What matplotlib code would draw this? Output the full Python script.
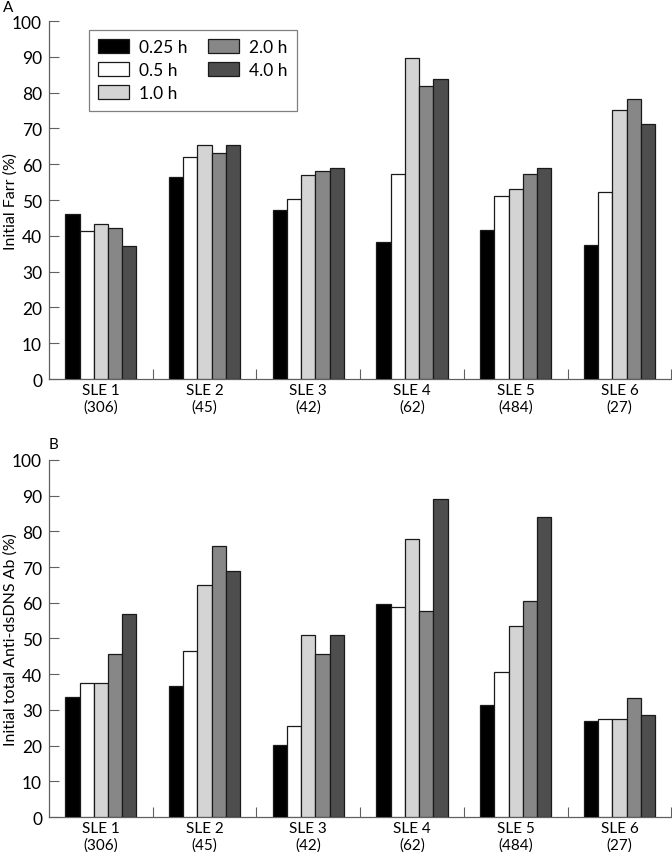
import numpy as np
import matplotlib
matplotlib.use('Agg')
import matplotlib.pyplot as plt
from matplotlib.patches import Patch

plt.rcParams['font.family'] = ['Lato', 'DejaVu Sans']

patients = ['SLE 1', 'SLE 2', 'SLE 3', 'SLE 4', 'SLE 5', 'SLE 6']
counts = ['(306)', '(45)', '(42)', '(62)', '(484)', '(27)']
times = ['0.25 h', '0.5 h', '1.0 h', '2.0 h', '4.0 h']

# Panel A: initial Farr (%) per time point
farr_025 = [46.1, 56.4, 47.1, 38.3, 41.7, 37.3]
farr_05 = [41.3, 62.0, 50.4, 57.3, 51.1, 52.2]
farr_10 = [43.4, 65.4, 57.1, 89.7, 53.2, 75.1]
farr_20 = [42.1, 63.2, 58.2, 81.9, 57.3, 78.3]
farr_40 = [37.1, 65.4, 59.0, 83.9, 58.9, 71.1]

# Panel B: initial total anti-dsDNA Ab (%) per time point
ab_025 = [33.5, 36.7, 20.3, 59.6, 31.4, 26.9]
ab_05 = [37.6, 46.5, 25.5, 58.7, 40.5, 27.5]
ab_10 = [37.6, 65.0, 51.0, 77.8, 53.5, 27.5]
ab_20 = [45.7, 75.9, 45.7, 57.6, 60.6, 33.4]
ab_40 = [56.9, 68.9, 51.0, 89.0, 83.9, 28.6]

colors = ['#000000', '#ffffff', '#d4d4d4', '#878787', '#4e4e4e']
spine_col = '#606060'


def draw_panel(ax, series, ylabel, letter, letter_xy, legend=False):
    x = np.arange(len(patients))
    w = 0.137
    for i, vals in enumerate(series):
        ax.bar(x + (i - 2) * w, vals, w, color=colors[i], edgecolor='#1a1a1a',
               linewidth=0.9, zorder=3)
    ax.set_xlim(-0.5, 5.5)
    ax.set_ylim(0, 100)
    ax.set_yticks(range(0, 101, 10))
    ax.set_xticks(x)
    ax.set_xticklabels([p + '\n' + c for p, c in zip(patients, counts)],
                       fontsize=11, linespacing=1.15)
    ax.set_xticks(np.arange(0.5, 6, 1), minor=True)
    ax.tick_params(axis='x', which='major', length=0, pad=3)
    ax.tick_params(axis='x', which='minor', direction='in', length=7,
                   width=0.8, color=spine_col)
    ax.tick_params(axis='y', direction='in', length=7, width=0.8,
                   color=spine_col, labelsize=12.5, pad=5)
    for s in ['top', 'right']:
        ax.spines[s].set_visible(False)
    for s in ['left', 'bottom']:
        ax.spines[s].set_color(spine_col)
        ax.spines[s].set_linewidth(0.9)
    ax.set_ylabel(ylabel, fontsize=11.5)
    ax.yaxis.set_label_coords(-0.051, 0.5)
    ax.text(letter_xy[0], letter_xy[1], letter, transform=ax.figure.transFigure,
            fontsize=11, ha='left', va='center')
    if legend:
        handles = [Patch(facecolor=colors[i], edgecolor='#1a1a1a', linewidth=0.9,
                         label=times[i]) for i in range(5)]
        leg = ax.legend(handles=handles, ncol=2, loc='upper left',
                        bbox_to_anchor=(0.05, 1.0), fontsize=12.5, frameon=True,
                        fancybox=False, edgecolor=spine_col, handlelength=1.75,
                        handleheight=0.85, columnspacing=1.2, handletextpad=0.6,
                        labelspacing=0.4, borderpad=0.55)
        leg.get_frame().set_linewidth(0.9)


fig = plt.figure(figsize=(6.72, 8.53), dpi=100)
ax1 = fig.add_axes([0.0729, 0.5545, 0.926, 0.4197])
ax2 = fig.add_axes([0.0729, 0.041, 0.926, 0.4186])

draw_panel(ax1, [farr_025, farr_05, farr_10, farr_20, farr_40],
           'Initial Farr (%)', 'A', (0.005, 0.991), legend=True)
draw_panel(ax2, [ab_025, ab_05, ab_10, ab_20, ab_40],
           'Initial total Anti-dsDNS Ab (%)', 'B', (0.073, 0.478))

fig.savefig('out.png', dpi=100)
